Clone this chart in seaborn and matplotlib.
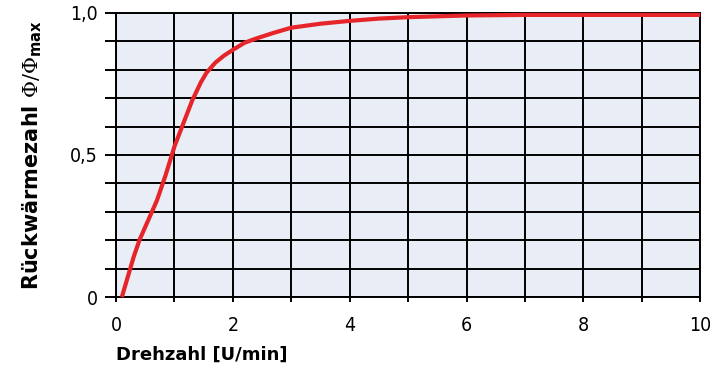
import numpy as np
import pandas as pd
import seaborn as sns
import matplotlib.pyplot as plt

# curve
drehzahl = [0.1, 0.2, 0.3, 0.4, 0.55, 0.7, 0.85, 1.0, 1.15, 1.3, 1.45, 1.55, 1.7, 1.85,
            2.0, 2.2, 2.4, 2.7, 3.0, 3.5, 4.0, 4.5, 5.0, 6.0, 7.0, 8.0, 10.0]
rueckwaermezahl = [0.0, 0.07, 0.14, 0.2, 0.27, 0.34, 0.43, 0.53, 0.61, 0.69, 0.755, 0.79, 0.825, 0.85,
                   0.87, 0.895, 0.91, 0.93, 0.948, 0.962, 0.972, 0.98, 0.985, 0.991, 0.993, 0.993, 0.993]

x_ticks = list(range(0, 11))
x_labels = [str(t) if t % 2 == 0 else '' for t in x_ticks]
y_ticks = [i / 10 for i in range(0, 11)]
y_labels = {0.0: '0', 0.5: '0,5', 1.0: '1,0'}

sns.set_style('white', {'axes.facecolor': '#e9eef6', 'axes.edgecolor': 'black'})
plt.rcParams['font.family'] = ['DejaVu Sans']
plt.rcParams['text.color'] = 'black'
plt.rcParams['axes.labelcolor'] = 'black'
plt.rcParams['xtick.color'] = 'black'
plt.rcParams['ytick.color'] = 'black'
plt.rcParams['mathtext.fontset'] = 'custom'
plt.rcParams['mathtext.rm'] = 'DejaVu Serif'
plt.rcParams['mathtext.it'] = 'DejaVu Serif:italic'
plt.rcParams['mathtext.bf'] = 'DejaVu Sans:bold'

fig, ax = plt.subplots(figsize=(7.22, 3.69), dpi=100)
fig.subplots_adjust(left=0.1607, right=0.970, top=0.965, bottom=0.195)

df = pd.DataFrame({'n': drehzahl, 'phi': rueckwaermezahl})
sns.lineplot(data=df, x='n', y='phi', ax=ax, color='#e5252a', linewidth=3.0,
             solid_capstyle='butt', solid_joinstyle='round', zorder=5, clip_on=False)

ax.set_xlim(0, 10)
ax.set_ylim(0, 1)
ax.set_xticks(x_ticks)
ax.set_xticklabels(x_labels, fontstretch='condensed', fontsize=14)
ax.set_yticks(y_ticks)
ax.set_yticklabels([y_labels.get(round(t, 1), '') for t in y_ticks],
                   fontstretch='condensed', fontsize=14)

ax.grid(True, color='black', linewidth=1.4)
ax.set_axisbelow(True)
for s in ax.spines.values():
    s.set_linewidth(1.4)
    s.set_color('black')

ax.tick_params(axis='y', direction='out', length=8, width=1.4, pad=5, left=True)
ax.tick_params(axis='x', direction='out', length=3.6, width=1.4, pad=10, bottom=True)

ax.set_xlabel('Drehzahl [U/min]', loc='left', fontsize=13, fontweight='heavy',
              labelpad=8)
ax.set_ylabel(r'Rückwärmezahl $\Phi/\Phi_{\mathbf{max}}$', fontsize=15, fontweight='heavy',
              labelpad=19)

fig.savefig('out.png', dpi=100)
